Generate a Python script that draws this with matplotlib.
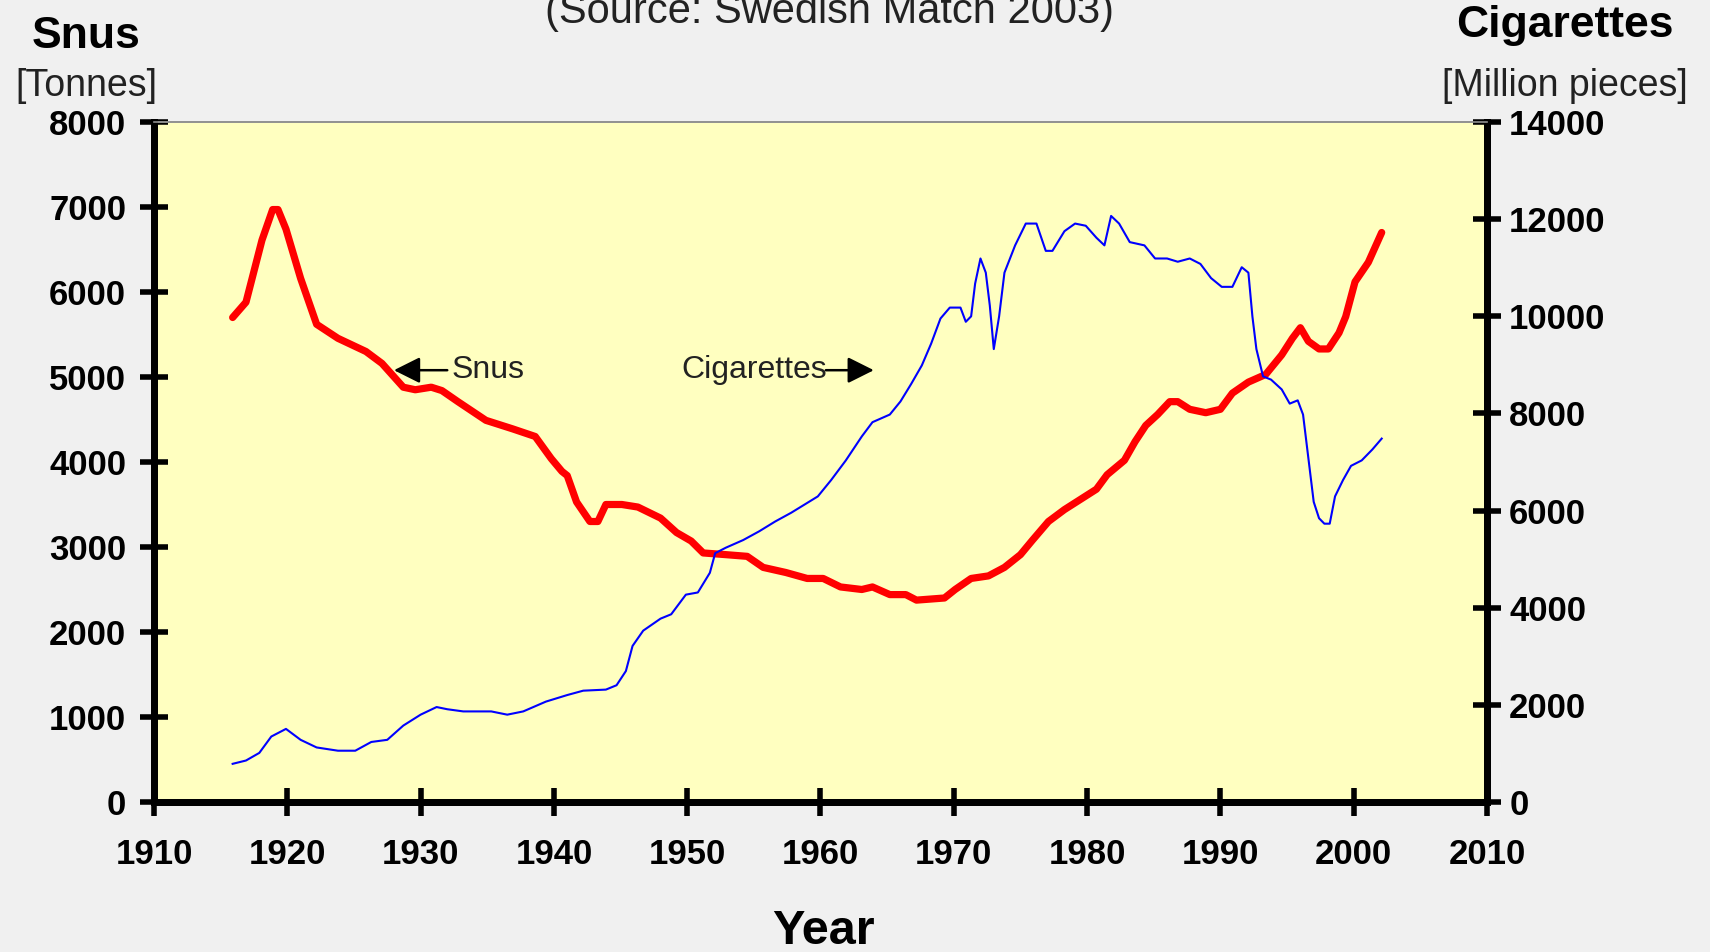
import matplotlib
matplotlib.use("Agg")
import matplotlib.pyplot as plt

# Snus (tonnes), left axis
snus_years = [1915.9, 1916.9, 1918.1, 1918.9, 1919.3, 1919.9, 1921.0, 1922.2, 1923.8, 1925.9,
              1927.1, 1928.7, 1929.6, 1930.8, 1931.6, 1932.8, 1934.9, 1936.9, 1938.6, 1939.8,
              1940.6, 1941.0, 1941.7, 1942.7, 1943.3, 1943.9, 1945.1, 1946.3, 1948.0, 1949.2,
              1950.3, 1951.2, 1952.9, 1954.5, 1955.7, 1957.4, 1959.0, 1960.2, 1961.5, 1963.1,
              1963.9, 1965.2, 1966.4, 1967.2, 1969.3, 1970.1, 1971.3, 1972.6, 1973.8, 1975.0,
              1975.9, 1977.1, 1978.3, 1979.5, 1980.7, 1981.5, 1982.8, 1983.6, 1984.4, 1985.3,
              1986.2, 1986.8, 1987.7, 1988.9, 1990.0, 1990.9, 1992.1, 1993.4, 1994.6, 1995.4,
              1996.0, 1996.6, 1997.4, 1998.1, 1998.9, 1999.4, 2000.1, 2001.1, 2002.1]
snus_tonnes = [5700, 5880, 6610, 6970, 6970, 6740, 6160, 5620, 5455, 5300,
               5160, 4880, 4850, 4880, 4840, 4710, 4490, 4390, 4300, 4040,
               3890, 3840, 3530, 3300, 3300, 3500, 3500, 3470, 3340, 3170,
               3070, 2930, 2910, 2890, 2760, 2700, 2630, 2630, 2530, 2500,
               2530, 2440, 2440, 2375, 2400, 2500, 2630, 2660, 2760, 2910,
               3080, 3300, 3440, 3560, 3680, 3850, 4020, 4240, 4430, 4560,
               4710, 4710, 4620, 4580, 4620, 4810, 4940, 5030, 5260, 5455,
               5580, 5420, 5330, 5330, 5520, 5710, 6120, 6350, 6700]

# Cigarettes (million pieces), right axis
cig_years = [1915.9, 1916.9, 1917.9, 1918.8, 1919.9, 1921.0, 1922.2, 1923.8, 1925.1, 1926.3,
             1927.5, 1928.7, 1930.0, 1931.2, 1932.0, 1933.2, 1935.3, 1936.5, 1937.7, 1939.4,
             1941.0, 1942.2, 1943.9, 1944.7, 1945.4, 1945.9, 1946.7, 1948.0, 1948.8, 1949.9,
             1950.8, 1951.7, 1952.1, 1952.9, 1954.2, 1955.4, 1956.6, 1957.8, 1959.0, 1959.8,
             1960.8, 1961.9, 1963.1, 1963.9, 1965.2, 1966.0, 1966.8, 1967.6, 1968.3, 1969.0,
             1969.7, 1970.5, 1970.9, 1971.3, 1971.6, 1972.0, 1972.4, 1972.7, 1973.0, 1973.4,
             1973.8, 1974.6, 1975.4, 1976.2, 1976.9, 1977.4, 1978.3, 1979.1, 1979.9, 1980.7,
             1981.3, 1981.8, 1982.4, 1983.2, 1984.3, 1985.1, 1986.0, 1986.8, 1987.7, 1988.5,
             1989.3, 1990.1, 1990.9, 1991.6, 1992.1, 1992.4, 1992.7, 1993.2, 1993.8, 1994.6,
             1995.2, 1995.8, 1996.2, 1996.6, 1997.0, 1997.4, 1997.8, 1998.2, 1998.6, 1999.2,
             1999.8, 2000.6, 2001.4, 2002.1]
cig_million = [786, 854, 1011, 1348, 1505, 1280, 1123, 1056, 1056, 1236,
               1280, 1573, 1798, 1955, 1910, 1865, 1865, 1798, 1865, 2067,
               2202, 2292, 2314, 2404, 2696, 3213, 3528, 3775, 3865, 4269,
               4314, 4719, 5123, 5236, 5393, 5573, 5775, 5955, 6157, 6292,
               6629, 7033, 7527, 7820, 7977, 8247, 8606, 8988, 9437, 9954,
               10179, 10179, 9887, 9999, 10673, 11190, 10898, 10224, 9325, 9999,
               10898, 11460, 11909, 11909, 11347, 11347, 11752, 11909, 11864, 11617,
               11460, 12066, 11909, 11527, 11460, 11190, 11190, 11123, 11190, 11078,
               10786, 10606, 10606, 11010, 10898, 9999, 9325, 8763, 8696, 8494,
               8202, 8269, 7977, 7078, 6179, 5842, 5730, 5730, 6292, 6629,
               6921, 7033, 7258, 7482]

year_ticks = list(range(1910, 2011, 10))
snus_ticks = list(range(0, 8001, 1000))
cig_ticks = list(range(0, 14001, 2000))

W, H = 1710, 952
fig = plt.figure(figsize=(W / 100, H / 100), dpi=100, facecolor="#f0f0f0")
ax = fig.add_axes([154 / W, 1 - 802 / H, (1487 - 154) / W, (802 - 122) / H])
ax.set_facecolor("#ffffc0")

ax.plot(snus_years, snus_tonnes, color="#ff0000", lw=5.2, solid_capstyle="round",
        solid_joinstyle="round", zorder=3)
ax.set_xlim(1910, 2010)
ax.set_ylim(0, 8000)

ax2 = ax.twinx()
ax2.plot(cig_years, cig_million, color="#0000ff", lw=1.5, zorder=3)
ax2.set_ylim(0, 14000)

for a in (ax, ax2):
    for side in ("left", "right", "bottom"):
        a.spines[side].set_linewidth(5)
        a.spines[side].set_color("black")
    a.spines["top"].set_linewidth(1.2)
    a.spines["top"].set_color("#909090")

tick_font = dict(fontsize=25, fontweight="bold", family="Liberation Sans")
ax.set_xticks(year_ticks)
ax.set_xticklabels([str(y) for y in year_ticks], **tick_font)
ax.set_yticks(snus_ticks)
ax.set_yticklabels([str(v) for v in snus_ticks], **tick_font)
ax2.set_yticks(cig_ticks)
ax2.set_yticklabels([str(v) for v in cig_ticks], **tick_font)
ax.tick_params(axis="x", direction="inout", length=20, width=4, pad=16)
ax.tick_params(axis="y", direction="inout", length=20, width=4, pad=10)
ax2.tick_params(axis="y", direction="inout", length=20, width=4, pad=6)

# arrows pointing to the axes
arrow_style = dict(arrowstyle="-|>,head_length=1.6,head_width=0.8", color="black", lw=1.8,
                   shrinkA=0, shrinkB=0)
ax.annotate("", xy=(1928.0, 5080), xytext=(1932.0, 5080), arrowprops=arrow_style)
ax.text(1932.3, 5080, "Snus", fontsize=23, family="Liberation Sans", va="center", ha="left",
        color="#222222")
ax.text(1960.5, 5080, "Cigarettes", fontsize=23, family="Liberation Sans", va="center", ha="right",
        color="#222222")
ax.annotate("", xy=(1964.0, 5080), xytext=(1960.4, 5080), arrowprops=arrow_style)

def ftext(x, y, s, **kw):
    fig.text(x / W, 1 - y / H, s, ha="center", va="center", family="Liberation Sans", **kw)

ftext(829, 12, "(Source: Swedish Match 2003)", fontsize=30, color="#222222")
ftext(86, 36, "Snus", fontsize=32, fontweight="bold")
ftext(86, 86, "[Tonnes]", fontsize=27, color="#222222")
ftext(1565, 25, "Cigarettes", fontsize=32, fontweight="bold")
ftext(1565, 86, "[Million pieces]", fontsize=27, color="#222222")
ftext(823, 932, "Year", fontsize=35, fontweight="bold")

fig.savefig("out.png", dpi=100, facecolor=fig.get_facecolor())
